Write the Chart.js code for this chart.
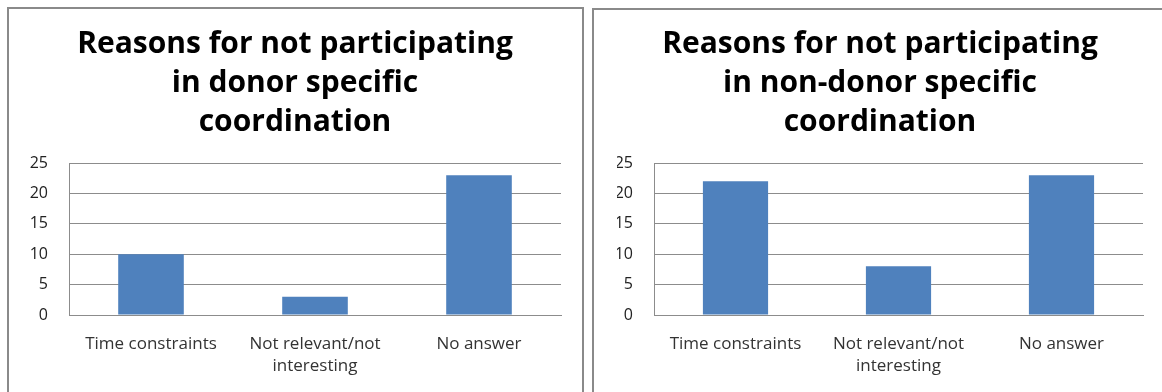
<!DOCTYPE html>
<html>
<head>
<meta charset="utf-8">
<script src="https://cdn.jsdelivr.net/npm/chart.js@4.4.1/dist/chart.umd.min.js"></script>
<style>
  html, body { margin: 0; padding: 0; background: #fff; }
  body { width: 1162px; height: 392px; position: relative; overflow: hidden; }
  .panell { position: absolute; border: 2px solid #8a8a8a; box-sizing: border-box; }
  .llenç { position: absolute; top: 0; }
</style>
</head>
<body>
<div class="panell" style="left:7px; top:7px; width:577px; height:400px;"></div>
<div class="panell" style="left:592px; top:8px; width:590px; height:400px;"></div>
<div class="llenç" style="left:0px; width:587px; height:392px;"><canvas id="graficDonant"></canvas></div>
<div class="llenç" style="left:587px; width:575px; height:392px;"><canvas id="graficNoDonant"></canvas></div>

<script>
// Motius de no participació (nombre de respostes)
const categories = ["Time constraints", ["Not relevant/not", "interesting"], "No answer"];
const valorsDonant = [10, 3, 23];
const valorsNoDonant = [22, 8, 23];
const ticksY = [0, 5, 10, 15, 20, 25];

const titolDonant = ["Reasons for not participating", "in donor specific", "coordination"];
const titolNoDonant = ["Reasons for not participating", "in non-donor specific", "coordination"];

const colorBarra = '#4f81bd';
const colorGraella = '#8c8c8c';
const font = 'Open Sans';

function crearGrafic(id, titol, valors, pad, ampleY) {
  const ctx = document.getElementById(id).getContext('2d');
  return new Chart(ctx, {
    type: 'bar',
    data: {
      labels: categories,
      datasets: [{
        data: valors,
        backgroundColor: colorBarra,
        barPercentage: 0.4,
        categoryPercentage: 1.0
      }]
    },
    options: {
      responsive: true,
      maintainAspectRatio: false,
      animation: false,
      layout: { padding: { left: pad.left, right: pad.right, top: 0, bottom: 0 } },
      plugins: {
        legend: { display: false },
        tooltip: { enabled: false },
        title: {
          display: true,
          text: titol,
          color: '#000',
          font: { family: font, weight: 'bold', size: 30, lineHeight: '39px' },
          padding: { top: 25, bottom: 21 }
        }
      },
      scales: {
        x: {
          grid: { display: false, drawTicks: false },
          border: { display: true, color: colorGraella, width: 1 },
          ticks: {
            color: '#333',
            font: { family: font, size: 17, lineHeight: '22px' },
            padding: 18,
            maxRotation: 0,
            autoSkip: false
          },
          afterFit: s => { s.height = 77; }
        },
        y: {
          min: 0,
          max: 25,
          afterBuildTicks: s => { s.ticks = ticksY.map(v => ({ value: v })); },
          grid: { color: colorGraella, drawTicks: false },
          border: { display: true, color: colorGraella, width: 1 },
          ticks: {
            color: '#222',
            font: { family: font, size: 16 },
            padding: 21
          },
          afterFit: s => { s.width = ampleY; }
        }
      }
    }
  });
}

crearGrafic('graficDonant', titolDonant, valorsDonant, { left: 29, right: 26 }, 40);
crearGrafic('graficNoDonant', titolNoDonant, valorsNoDonant, { left: 30, right: 19 }, 37);
</script>
</body>
</html>
